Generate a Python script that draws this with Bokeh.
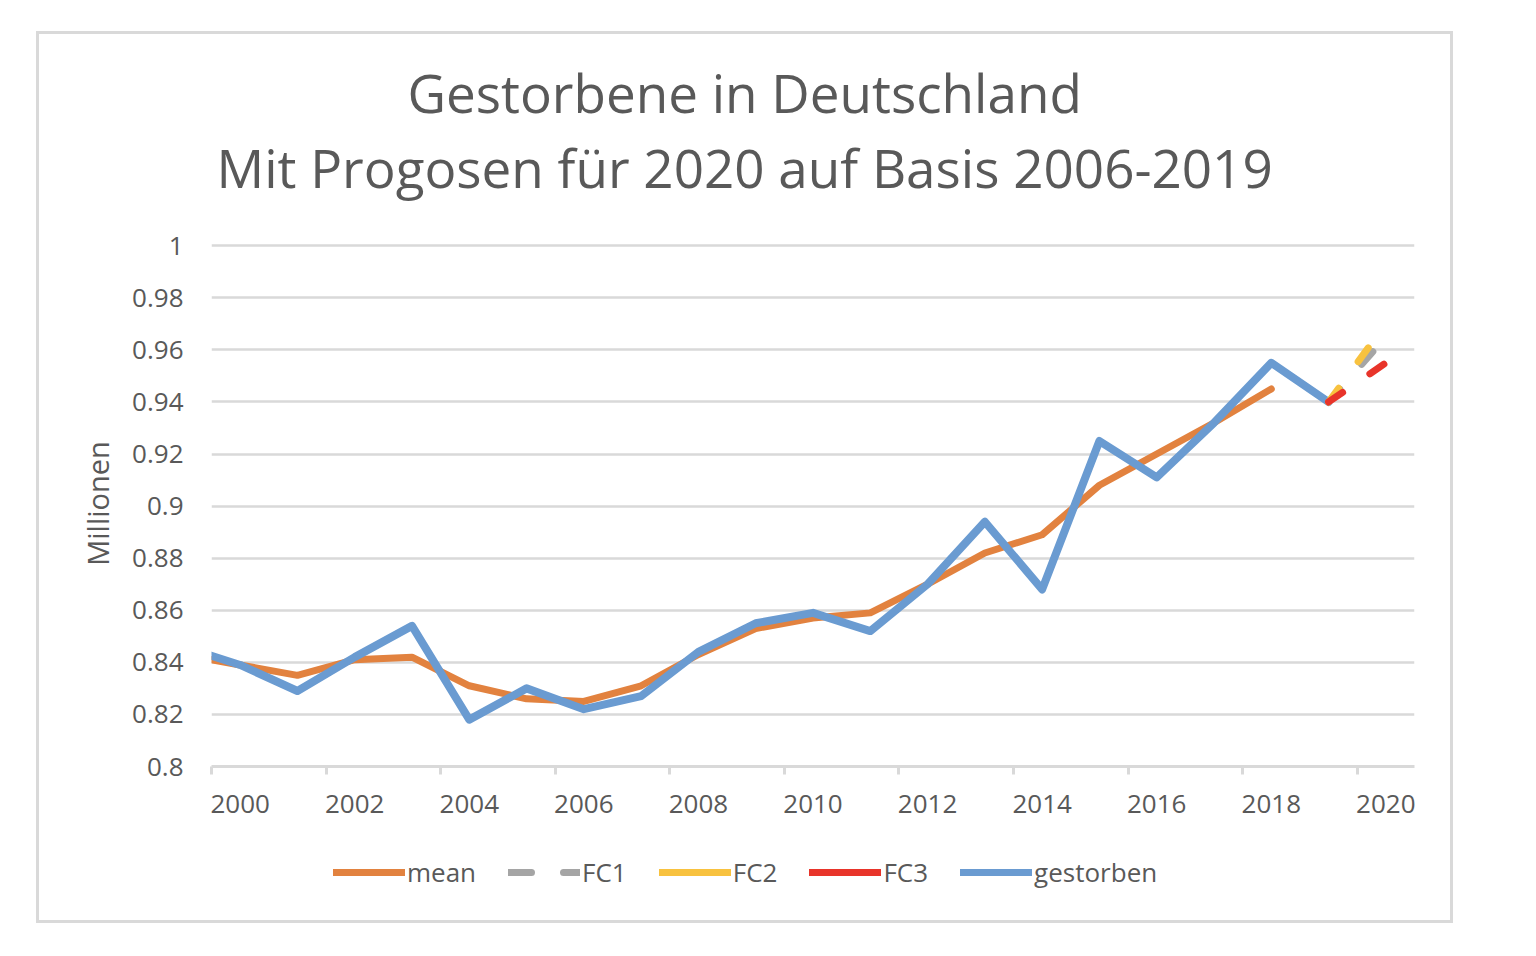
import math
from bokeh.plotting import figure
from bokeh.layouts import column
from bokeh.models import (Range1d, FixedTicker, NumeralTickFormatter, Title,
                          Legend, LegendItem)
from bokeh.embed import file_html
from bokeh.resources import INLINE

# ---------------- data ----------------
years_hist = list(range(1999, 2020))
gestorben = [0.846, 0.839, 0.829, 0.842, 0.854, 0.818, 0.830, 0.822, 0.827,
             0.844, 0.855, 0.859, 0.852, 0.870, 0.894, 0.868, 0.925, 0.911,
             0.932, 0.955, 0.940]
years_mean = list(range(1999, 2019))
mean = [0.843, 0.839, 0.835, 0.841, 0.842, 0.831, 0.826, 0.825, 0.831, 0.843,
        0.853, 0.857, 0.859, 0.870, 0.882, 0.889, 0.908, 0.920, 0.932, 0.945]
fc_years = [2019, 2020]
fc1 = [0.940, 0.965]
fc2 = [0.940, 0.970]
fc3 = [0.940, 0.955]

x_label_years = [2000, 2002, 2004, 2006, 2008, 2010, 2012, 2014, 2016, 2018, 2020]
y_ticks = [0.8, 0.82, 0.84, 0.86, 0.88, 0.9, 0.92, 0.94, 0.96, 0.98, 1.0]

title_line1 = "Gestorbene in Deutschland"
title_line2 = "Mit Progosen für 2020 auf Basis 2006-2019"
y_title = "Millionen"
legend_labels = ["mean", "FC1", "FC2", "FC3", "gestorben"]

# ---------------- style ----------------
FONT = "Open Sans"
TXT = "#595959"
GRID = "#D9D9D9"
C_MEAN = "#E2823F"
C_FC1 = "#A5A5A5"
C_FC2 = "#F8C23F"
C_FC3 = "#E8342A"
C_BLUE = "#6A9BD1"
FC_DASH = "17 33"
W = 1411

def bare(fig):
    fig.background_fill_color = "white"
    fig.border_fill_color = "white"
    fig.outline_line_color = None

# ---------------- title block ----------------
p_top = figure(width=W, height=180, output_backend="svg", toolbar_location=None,
               x_axis_type=None, y_axis_type=None, title=None,
               x_range=Range1d(0, 1), y_range=Range1d(0, 1),
               min_border_left=0, min_border_right=0, min_border_top=169,
               min_border_bottom=0)
bare(p_top)
t2 = Title(text=title_line2, align="left", offset=5, text_font_size="53px",
           text_font=FONT, text_font_style="normal", text_color=TXT, standoff=0)
t1 = Title(text=title_line1, align="left", offset=196, text_font_size="53px",
           text_font=FONT, text_font_style="normal", text_color=TXT, standoff=0)
p_top.add_layout(t2, "above")
p_top.add_layout(t1, "above")

# ---------------- main chart ----------------
# y range ends a hair above 1 so that the top gridline is fully drawn
p = figure(width=W, height=615, output_backend="svg", toolbar_location=None,
           x_range=Range1d(1999.5, 2020.5), y_range=Range1d(0.8, 1.002),
           min_border_left=172, min_border_right=36, min_border_top=26,
           min_border_bottom=63, title=None)
bare(p)

p.xaxis.ticker = FixedTicker(ticks=x_label_years,
                             minor_ticks=[y - 0.5 for y in x_label_years])
p.xaxis.axis_line_color = GRID
p.xaxis.axis_line_width = 3
p.xaxis.major_tick_line_color = None
p.xaxis.major_tick_out = 0
p.xaxis.major_tick_in = 0
p.xaxis.minor_tick_line_color = GRID
p.xaxis.minor_tick_line_width = 3
p.xaxis.minor_tick_out = 8
p.xaxis.minor_tick_in = 0
p.xaxis.major_label_standoff = 20
p.xaxis.major_label_text_font = FONT
p.xaxis.major_label_text_font_size = "26px"
p.xaxis.major_label_text_color = TXT

p.yaxis.ticker = FixedTicker(ticks=y_ticks)
p.yaxis.formatter = NumeralTickFormatter(format="0.[00]")
p.yaxis.axis_line_color = None
p.yaxis.major_tick_line_color = None
p.yaxis.minor_tick_line_color = None
p.yaxis.major_tick_out = 0
p.yaxis.major_tick_in = 0
p.yaxis.major_label_standoff = 28
p.yaxis.major_label_text_font = FONT
p.yaxis.major_label_text_font_size = "26px"
p.yaxis.major_label_text_color = TXT
p.yaxis.axis_label = y_title
p.yaxis.axis_label_text_font = FONT
p.yaxis.axis_label_text_font_size = "29px"
p.yaxis.axis_label_text_font_style = "normal"
p.yaxis.axis_label_text_color = TXT
p.yaxis.axis_label_standoff = 12

p.xgrid.grid_line_color = None
p.ygrid.ticker = FixedTicker(ticks=y_ticks)
p.ygrid.grid_line_color = GRID
p.ygrid.grid_line_width = 2.5

kw = dict(line_cap="round", line_join="round")
p.line(years_mean, mean, line_color=C_MEAN, line_width=7, **kw)
p.line(years_hist, gestorben, line_color=C_BLUE, line_width=8, **kw)
p.line(fc_years, fc1, line_color=C_FC1, line_width=7, line_dash=FC_DASH, **kw)
p.line(fc_years, fc2, line_color=C_FC2, line_width=7, line_dash=FC_DASH, **kw)
p.line(fc_years, fc3, line_color=C_FC3, line_width=7, line_dash=FC_DASH, **kw)

# ---------------- legend block ----------------
p_leg = figure(width=W, height=91, output_backend="svg", toolbar_location=None,
               x_axis_type=None, y_axis_type=None, title=None,
               x_range=Range1d(0, 1), y_range=Range1d(0, 1),
               min_border_left=0, min_border_right=0, min_border_top=0,
               min_border_bottom=0)
bare(p_leg)
nan = [math.nan]
leg_styles = [dict(line_color=C_MEAN),
              dict(line_color=C_FC1, line_dash="23 32"),
              dict(line_color=C_FC2),
              dict(line_color=C_FC3),
              dict(line_color=C_BLUE)]
items = []
for lab, st in zip(legend_labels, leg_styles):
    r = p_leg.line(nan, nan, line_width=7, **kw, **st)
    items.append(LegendItem(label=lab, renderers=[r]))

legend = Legend(items=items, orientation="horizontal", location=(122, 30))
legend.glyph_width = 72
legend.glyph_height = 30
legend.label_standoff = 2
legend.spacing = 32
legend.padding = 0
legend.margin = 0
legend.border_line_color = None
legend.background_fill_alpha = 0
legend.label_text_font = FONT
legend.label_text_font_size = "26px"
legend.label_text_color = TXT
p_leg.add_layout(legend, "center")

layout = column(p_top, p, p_leg, spacing=0)
layout.margin = (31, 0, 0, 36)
layout.styles = {"border": "3px solid #D9D9D9", "background-color": "white"}

open("out.html", "w").write(file_html(layout, INLINE))
